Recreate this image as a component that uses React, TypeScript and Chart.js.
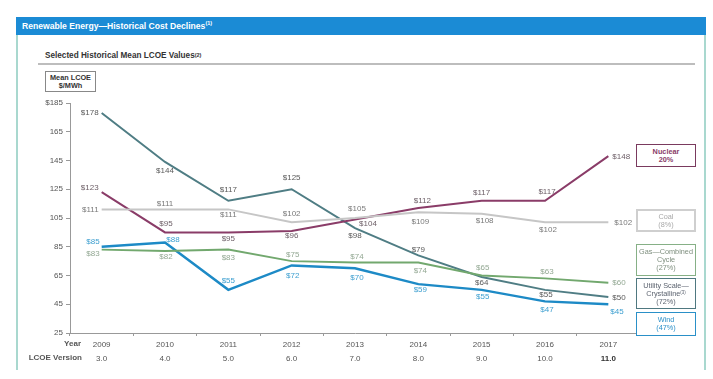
import React, { useEffect, useRef } from 'react';
import { Chart, registerables } from 'chart.js';
Chart.register(...registerables);

const years = ['2009', '2010', '2011', '2012', '2013', '2014', '2015', '2016', '2017'];
const versions = ['3.0', '4.0', '5.0', '6.0', '7.0', '8.0', '9.0', '10.0', '11.0'];

const solar = [178, 144, 117, 125, 98, 79, 64, 55, 50];
const nuclear = [123, 95, 95, 96, 104, 112, 117, 117, 148];
const coal = [111, 111, 111, 102, 105, 109, 108, 102, 102];
const gas = [83, 82, 83, 75, 74, 74, 65, 63, 60];
const wind = [85, 88, 55, 72, 70, 59, 55, 47, 45];

// label placement relative to each point: [dx, dy, align]
const solarLbl = [[-3, 0, 'r'], [0, 9, 'c'], [0, -11, 'c'], [0, -11, 'c'], [0, 8, 'c'], [0, -6, 'c'], [0, 6, 'c'], [1, 5, 'c'], [4, 1, 'l']];
const nuclearLbl = [[-3, -4, 'r'], [1, -9, 'c'], [0, 6, 'c'], [0, 5, 'c'], [13, 4, 'c'], [4, -7, 'c'], [0, -8, 'c'], [2, -9, 'c'], [4, 1, 'l']];
const coalLbl = [[-3, 0, 'r'], [0, -6, 'c'], [0, 5, 'c'], [0, -9, 'c'], [2, -9, 'c'], [2, 10, 'c'], [3, 7, 'c'], [3, 7, 'c'], [6, 0, 'l']];
const gasLbl = [[-2, 4, 'r'], [1, 6, 'c'], [0, 8, 'c'], [1, -6, 'c'], [2, -6, 'c'], [2, 8, 'c'], [1, -8, 'c'], [2, -7, 'c'], [4, 0, 'l']];
const windLbl = [[-2, -5, 'r'], [8, -3, 'c'], [0, -9, 'c'], [1, 10, 'c'], [2, 9, 'c'], [2, 6, 'c'], [1, 7, 'c'], [2, 8, 'c'], [2, 8, 'l']];

const FONT = '"Liberation Sans", Arial, sans-serif';

const valueLabels = {
  id: 'valueLabels',
  afterDatasetsDraw(chart: any) {
    const ctx = chart.ctx;
    chart.data.datasets.forEach((ds: any, di: number) => {
      const meta = chart.getDatasetMeta(di);
      meta.data.forEach((pt: any, i: number) => {
        const [dx, dy, al] = ds.lbl[i];
        ctx.save();
        ctx.font = '8px ' + FONT;
        ctx.fillStyle = ds.lblColor;
        ctx.textAlign = al === 'r' ? 'right' : al === 'l' ? 'left' : 'center';
        ctx.textBaseline = 'middle';
        ctx.fillText('$' + ds.data[i], pt.x + dx, pt.y + dy);
        ctx.restore();
      });
    });
  },
};

function LegendBox(props: { top: number; height: number; border: string; color: string; lines: React.ReactNode[]; bold?: boolean; bw?: number }) {
  return (
    <div
      style={{
        position: 'absolute',
        left: 636,
        top: props.top,
        width: 60,
        height: props.height,
        boxSizing: 'border-box',
        border: `${props.bw ?? 1.5}px solid ${props.border}`,
        color: props.color,
        fontFamily: FONT,
        fontSize: 7.3,
        fontWeight: props.bold ? 'bold' : 'normal',
        lineHeight: '8px',
        textAlign: 'center',
        display: 'flex',
        flexDirection: 'column',
        justifyContent: 'center',
        background: '#fff',
        whiteSpace: 'nowrap',
      }}
    >
      {props.lines.map((l, i) => (
        <div key={i}>{l}</div>
      ))}
    </div>
  );
}

export default function App() {
  const ref = useRef<HTMLCanvasElement>(null);
  useEffect(() => {
    const mk = (label: string, data: number[], color: string, lblColor: string, lbl: any[], width = 2) => ({
      label,
      data,
      borderColor: color,
      backgroundColor: color,
      borderWidth: width,
      pointRadius: 0,
      tension: 0,
      lbl,
      lblColor,
    });
    const chart = new Chart(ref.current!, {
      type: 'line',
      data: {
        labels: years,
        datasets: [
          mk('Coal', coal, '#c6c6c6', '#7a7a7a', coalLbl),
          mk('Gas—Combined Cycle', gas, '#72a86e', '#93a893', gasLbl),
          mk('Nuclear', nuclear, '#8a3c68', '#6e6068', nuclearLbl),
          mk('Utility Scale—Crystalline', solar, '#4f7d84', '#5a5a5a', solarLbl),
          mk('Wind', wind, '#1d8ac6', '#3d9fd0', windLbl, 2.5),
        ] as any,
      },
      options: {
        responsive: false,
        animation: false,
        devicePixelRatio: 1,
        layout: { padding: { left: 0, top: 103, right: 73, bottom: 0 } },
        plugins: { legend: { display: false }, tooltip: { enabled: false } },
        scales: {
          x: {
            type: 'category',
            position: 'bottom',
            offset: true,
            grid: { display: true, drawOnChartArea: false, drawTicks: true, tickLength: 3, offset: true, color: '#999' },
            border: { display: true, color: '#999', width: 1 },
            ticks: { color: '#555', font: { size: 8, family: FONT }, padding: 4, maxRotation: 0, autoSkip: false },
            afterFit: (s: any) => { s.height = 18; },
          },
          xv: {
            type: 'category',
            position: 'bottom',
            labels: versions,
            offset: true,
            grid: { display: false, drawTicks: false },
            border: { display: false },
            ticks: {
              color: (c: any) => (c.index === 8 ? '#333' : '#555'),
              font: (c: any) => ({ size: 8, family: FONT, weight: c.index === 8 ? 'bold' : 'normal' }),
              padding: 3,
              maxRotation: 0,
              autoSkip: false,
            },
            afterFit: (s: any) => { s.height = 28; },
          },
          y: {
            min: 25,
            max: 185,
            grid: { display: true, drawOnChartArea: false, drawTicks: true, tickLength: 4, color: '#999' },
            border: { display: true, color: '#999', width: 1 },
            ticks: {
              stepSize: 20,
              color: '#555',
              font: { size: 8, family: FONT },
              padding: 3,
              callback: (v: any) => (v === 185 ? '$185' : String(v)),
            },
            afterFit: (s: any) => { s.width = 70; },
          },
        } as any,
      },
      plugins: [valueLabels],
    });
    return () => chart.destroy();
  }, []);

  return (
    <div style={{ position: 'fixed', left: 0, top: 0, width: 713, height: 379, background: '#fff', overflow: 'hidden' }}>
      {/* header */}
      <div
        style={{
          position: 'absolute', left: 16, top: 17, width: 690, height: 18, background: '#1b8bd5',
          color: '#fff', fontFamily: FONT, fontWeight: 'bold', fontSize: 8.6, lineHeight: '18px', paddingLeft: 6, boxSizing: 'border-box', whiteSpace: 'nowrap',
        }}
      >
        Renewable Energy—Historical Cost Declines<sup style={{ fontSize: 5.5, verticalAlign: 'top', lineHeight: '12px' }}>(1)</sup>
      </div>
      {/* frame */}
      <div style={{ position: 'absolute', left: 16, top: 35, width: 1.5, height: 335, background: '#a9d8cf' }} />
      <div style={{ position: 'absolute', left: 704, top: 35, width: 1.5, height: 335, background: '#a9d8cf' }} />
      {/* subtitle */}
      <div style={{ position: 'absolute', left: 45, top: 51, fontFamily: FONT, fontWeight: 'bold', fontSize: 8.2, color: '#333', whiteSpace: 'nowrap' }}>
        Selected Historical Mean LCOE Values<sup style={{ fontSize: 5.5, verticalAlign: 'top', lineHeight: '8px' }}>(2)</sup>
      </div>
      <div style={{ position: 'absolute', left: 38, top: 63, width: 657, height: 2, background: '#bdbdbd' }} />
      {/* unit box */}
      <div
        style={{
          position: 'absolute', left: 45, top: 71, width: 51, height: 21, boxSizing: 'border-box', border: '1px solid #888',
          fontFamily: FONT, fontWeight: 'bold', fontSize: 7.3, lineHeight: '8.5px', textAlign: 'center', color: '#333', paddingTop: 1.5,
        }}
      >
        Mean LCOE<br />$/MWh
      </div>
      <canvas ref={ref} width={713} height={379} style={{ position: 'absolute', left: 0, top: 0, width: 713, height: 379 }} />
      {/* row labels */}
      <div style={{ position: 'absolute', right: 713 - 81, top: 339, fontFamily: FONT, fontWeight: 'bold', fontSize: 8, color: '#555' }}>Year</div>
      <div style={{ position: 'absolute', right: 713 - 82, top: 353, fontFamily: FONT, fontWeight: 'bold', fontSize: 8, color: '#555', whiteSpace: 'nowrap' }}>LCOE Version</div>
      {/* legend boxes */}
      <LegendBox top={144} height={23} border="#7a3a5e" color="#8a3c68" bold lines={['Nuclear', '20%']} />
      <LegendBox top={209} height={23} border="#cfcfcf" color="#a8a8a8" bw={2} lines={['Coal', '(8%)']} />
      <LegendBox top={244} height={32} border="#86b086" color="#7f8f7f" lines={['Gas—Combined', 'Cycle', '(27%)']} />
      <LegendBox
        top={278}
        height={31}
        border="#4f7880"
        color="#5d6470"
        lines={['Utility Scale—', <span>Crystalline<sup style={{ fontSize: 4.5, verticalAlign: 'top', lineHeight: '6px' }}>(3)</sup></span>, '(72%)']}
      />
      <LegendBox top={312} height={24} border="#2a90c8" color="#2a8fc8" lines={['Wind', '(47%)']} />
    </div>
  );
}
